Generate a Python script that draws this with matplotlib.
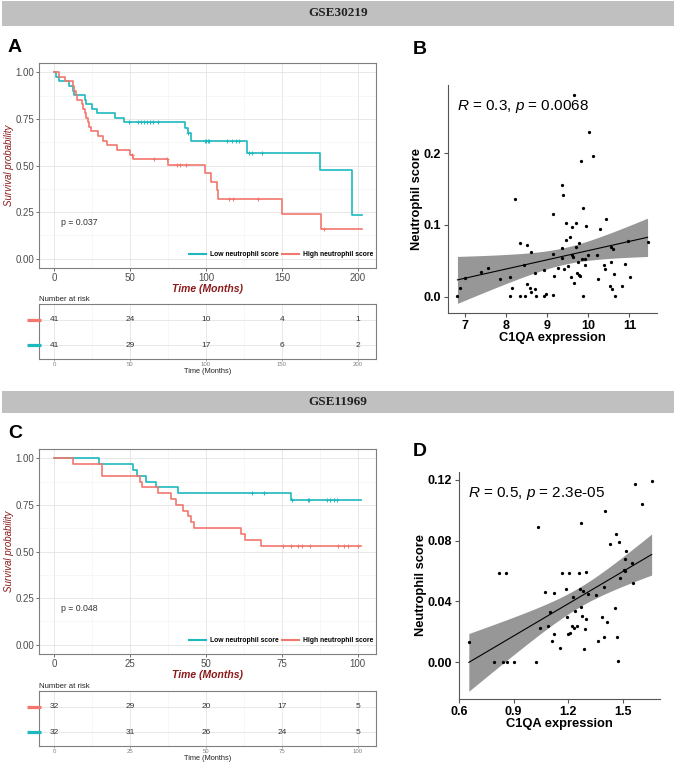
import numpy as np
import matplotlib
matplotlib.use('Agg')
import matplotlib.pyplot as plt
from matplotlib.patches import Rectangle
from matplotlib.lines import Line2D
from matplotlib.transforms import blended_transform_factory

plt.rcParams['font.family'] = ['Liberation Sans', 'DejaVu Sans']
plt.rcParams['mathtext.fontset'] = 'custom'
plt.rcParams['mathtext.rm'] = 'Liberation Sans'
plt.rcParams['mathtext.it'] = 'Liberation Sans:italic'

# ---------------- data ----------------
dataset_titles = ['GSE30219', 'GSE11969']
group_labels = ['Low neutrophil score', 'High neutrophil score']

# Panel A (GSE30219) Kaplan-Meier
A_low_t = [0, 1, 3, 10, 12, 13, 20, 21, 25, 28, 40, 46, 86, 88, 90, 127, 175, 196, 203]
A_low_s = [1.0, 0.976, 0.951, 0.927, 0.902, 0.878, 0.854, 0.829, 0.805, 0.780, 0.756,
           0.732, 0.703, 0.674, 0.634, 0.568, 0.474, 0.237, 0.237]
A_low_cens = [49, 55, 57, 59, 61, 63, 65, 68, 88, 99, 100, 101, 102, 114, 117, 120, 122,
              128, 130, 137]
A_high_t = [0, 3, 7, 12, 13, 14, 15, 18, 19, 20, 21, 22, 23, 24, 29, 32, 35, 41, 50, 52,
            75, 99, 103, 107, 108, 150, 176, 203]
A_high_s = [1.0, 0.976, 0.951, 0.927, 0.902, 0.878, 0.854, 0.829, 0.805, 0.780, 0.756,
            0.732, 0.707, 0.683, 0.659, 0.634, 0.610, 0.585, 0.559, 0.534, 0.504, 0.458,
            0.412, 0.366, 0.320, 0.240, 0.160, 0.160]
A_high_cens = [51, 66, 74, 81, 83, 87, 115, 118, 134, 178]
A_pval = 'p = 0.037'
A_risk_times = [0, 50, 100, 150, 200]
A_risk_high = [41, 24, 10, 4, 1]
A_risk_low = [41, 29, 17, 6, 2]

# Panel C (GSE11969) Kaplan-Meier
C_low_t = [0, 14.6, 25.8, 27.2, 30.1, 33.4, 40.9, 78, 101]
C_low_s = [1.0, 0.969, 0.938, 0.906, 0.875, 0.844, 0.8125, 0.778, 0.778]
C_low_cens = [65, 69, 78.2, 83.5, 84, 89.7, 91, 92, 93]
C_high_t = [0, 6, 15.7, 28.3, 29, 34, 38.4, 40, 42.3, 44.2, 45, 46, 61.4, 62.8, 68.1, 101]
C_high_s = [1.0, 0.969, 0.906, 0.875, 0.844, 0.8125, 0.781, 0.75, 0.719, 0.688, 0.656,
            0.625, 0.594, 0.562, 0.531, 0.531]
C_high_cens = [75.4, 78, 80.4, 81.7, 84.4, 93.5, 95.4, 96.8, 100]
C_pval = 'p = 0.048'
C_risk_times = [0, 25, 50, 75, 100]
C_risk_high = [32, 29, 20, 17, 5]
C_risk_low = [32, 31, 26, 24, 5]

# Panel B scatter (GSE30219)
B_x = [6.81, 6.88, 6.99, 7.38, 7.56, 7.84, 8.08, 8.09, 8.14, 8.20, 8.33, 8.34, 8.44, 8.46,
       8.50, 8.50, 8.57, 8.60, 8.61, 8.69, 8.71, 8.73, 8.91, 8.92, 8.96, 9.13, 9.14, 9.13,
       9.17, 9.25, 9.35, 9.37, 9.35, 9.36, 9.41, 9.45, 9.46, 9.50, 9.55, 9.57, 9.59, 9.61,
       9.63, 9.66, 9.66, 9.70, 9.70, 9.71, 9.74, 9.76, 9.78, 9.79, 9.81, 9.84, 9.87, 9.87,
       9.91, 9.92, 9.95, 10.00, 10.02, 10.10, 10.20, 10.24, 10.28, 10.38, 10.40, 10.44,
       10.52, 10.54, 10.56, 10.57, 10.60, 10.62, 10.65, 10.81, 10.90, 10.96, 11.02, 11.44]
B_y = [0.001, 0.012, 0.026, 0.034, 0.040, 0.025, 0.027, 0.001, 0.0125, 0.136, 0.001, 0.074,
       0.0435, 0.001, 0.072, 0.0176, 0.0116, 0.006, 0.0616, 0.0106, 0.033, 0.001, 0.0366,
       0.001, 0.003, 0.115, 0.059, 0.002, 0.0287, 0.040, 0.155, 0.141, 0.068, 0.0537, 0.039,
       0.102, 0.0787, 0.0426, 0.083, 0.027, 0.097, 0.058, 0.0546, 0.281, 0.0185, 0.069,
       0.103, 0.0324, 0.0486, 0.030, 0.075, 0.029, 0.189, 0.053, 0.124, 0.001, 0.053, 0.044,
       0.099, 0.058, 0.230, 0.196, 0.0574, 0.024, 0.0935, 0.044, 0.039, 0.108, 0.0153,
       0.069, 0.0486, 0.0102, 0.066, 0.031, 0.001, 0.014, 0.045, 0.078, 0.0273, 0.076]
B_text = r'$\mathit{R}$ = 0.3, $\mathit{p}$ = 0.0068'

# Panel D scatter (GSE11969)
D_x = [0.654, 0.790, 0.822, 0.844, 0.858, 0.864, 0.904, 1.021, 1.034, 1.043, 1.075, 1.088,
       1.099, 1.111, 1.121, 1.124, 1.157, 1.166, 1.187, 1.193, 1.198, 1.202, 1.211, 1.220,
       1.225, 1.233, 1.238, 1.247, 1.261, 1.265, 1.271, 1.271, 1.274, 1.280, 1.287, 1.290,
       1.296, 1.298, 1.310, 1.352, 1.364, 1.386, 1.397, 1.397, 1.404, 1.415, 1.428, 1.460,
       1.464, 1.469, 1.473, 1.477, 1.486, 1.509, 1.515, 1.518, 1.515, 1.549, 1.554, 1.569,
       1.608, 1.659]
D_y = [0.0135, 0.000, 0.059, 0.000, 0.059, 0.000, 0.000, 0.000, 0.089, 0.0229, 0.0465,
       0.0236, 0.033, 0.0142, 0.0185, 0.0458, 0.0098, 0.059, 0.048, 0.0295, 0.0185, 0.059,
       0.0192, 0.0242, 0.0428, 0.0229, 0.0336, 0.0236, 0.0585, 0.048, 0.0916, 0.0367,
       0.0308, 0.0469, 0.0089, 0.0218, 0.0286, 0.0596, 0.045, 0.044, 0.0142, 0.0295, 0.0166,
       0.0497, 0.0995, 0.0268, 0.0775, 0.036, 0.084, 0.0164, 0.001, 0.0788, 0.0556, 0.061,
       0.060, 0.073, 0.068, 0.0655, 0.052, 0.117, 0.104, 0.119]
D_text = r'$\mathit{R}$ = 0.5, $\mathit{p}$ = 2.3e-05'

# ---------------- style ----------------
TEAL = '#1DB9BF'
RED = '#F2776D'
DARKRED = '#8B1A1A'
FRAME = '#7F7F7F'
W, H = 676, 764

fig = plt.figure(figsize=(W / 100, H / 100), dpi=100)


def px_axes(l, t, r, b):
    return fig.add_axes([l / W, 1 - b / H, (r - l) / W, (b - t) / H])


def banner(top, bottom, text):
    fig.patches.append(Rectangle((2 / W, 1 - bottom / H), (W - 4) / W, (bottom - top) / H,
                                 transform=fig.transFigure, facecolor='#C0C0C0',
                                 edgecolor='none', zorder=0))
    fig.text(0.5, 1 - (top + bottom) / 2 / H, text, ha='center', va='center',
             family=['Liberation Serif'], weight='bold', fontsize=9.5, color='#222222')


def km_panel(ax, curves, xlim, xmajor, xminor, pval):
    for t, s, cens, col in curves:
        t = np.asarray(t, float)
        s = np.asarray(s, float)
        ax.step(t, s, where='post', color=col, lw=1.2, zorder=3)
        c = np.asarray(cens, float)
        idx = np.searchsorted(t, c, side='right') - 1
        ax.plot(c, s[idx], '+', color=col, ms=3.2, mew=0.7, zorder=4)
    ax.set_xlim(xlim)
    ax.set_ylim(-0.05, 1.05)
    ax.set_xticks(xmajor)
    ax.set_xticks(xminor, minor=True)
    ax.set_yticks([0, 0.25, 0.5, 0.75, 1.0])
    ax.set_yticks([0.125, 0.375, 0.625, 0.875], minor=True)
    ax.set_yticklabels(['0.00', '0.25', '0.50', '0.75', '1.00'])
    ax.grid(which='major', color='#E4E4E4', lw=0.6)
    ax.grid(which='minor', color='#F2F2F2', lw=0.4)
    ax.set_axisbelow(True)
    ax.tick_params(which='major', length=2, width=0.6, color='#555555', labelsize=7,
                   labelcolor='#4D4D4D', pad=1.5)
    ax.tick_params(which='minor', length=0)
    for sp in ax.spines.values():
        sp.set_color(FRAME)
        sp.set_linewidth(0.8)
    ax.set_ylabel('Survival probability', color=DARKRED, style='italic', fontsize=7,
                  labelpad=1)
    ax.set_xlabel('Time (Months)', color=DARKRED, style='italic', weight='bold',
                  fontsize=7.5, labelpad=0.5)
    ax.text(0.065, 0.22, pval, transform=ax.transAxes, fontsize=6.3, color='#333333',
            ha='left', va='center')
    handles = [Line2D([], [], color=TEAL, lw=1.5), Line2D([], [], color=RED, lw=1.5)]
    ax.legend(handles, group_labels, loc='center right', bbox_to_anchor=(1.0, 0.064),
              ncol=2, frameon=False, handlelength=2.6, columnspacing=0.5,
              handletextpad=0.5, borderaxespad=0.0,
              prop={'family': 'Liberation Sans', 'weight': 'bold', 'size': 4.9})


def risk_table(ax, times, high, low, xlim, xmajor, xminor):
    for x, n in zip(times, high):
        ax.text(x, 2, str(n), ha='center', va='center', fontsize=6, color='#333333')
    for x, n in zip(times, low):
        ax.text(x, 1, str(n), ha='center', va='center', fontsize=6, color='#333333')
    ax.set_xlim(xlim)
    ax.set_ylim(0.45, 2.62)
    ax.set_yticks([1, 2])
    ax.set_yticklabels([])
    ax.set_xticks(xmajor)
    ax.set_xticks(xminor, minor=True)
    ax.grid(which='major', color='#E4E4E4', lw=0.6)
    ax.grid(which='minor', axis='x', color='#F2F2F2', lw=0.4)
    ax.set_axisbelow(True)
    ax.tick_params(axis='x', which='major', length=1.5, width=0.5, color='#888888',
                   labelsize=4.3, labelcolor='#808080', pad=1)
    ax.tick_params(which='minor', length=0)
    ax.tick_params(axis='y', which='major', length=0)
    # coloured strata keys at the left of each row
    tr = blended_transform_factory(ax.transAxes, ax.transData)
    for row, col in [(1, TEAL), (2, RED)]:
        ax.plot([-0.036, 0.006], [row, row], color=col, lw=2.3, transform=tr,
                clip_on=False, solid_capstyle='butt', zorder=5)
    for sp in ax.spines.values():
        sp.set_color(FRAME)
        sp.set_linewidth(0.8)
    ax.set_xlabel('Time (Months)', fontsize=5.3, labelpad=0.5, color='#222222')
    ax.set_title('Number at risk', loc='left', fontsize=5.6, pad=2, color='#222222')


def scatter_panel(ax, x, y, xlim, ylim, xticks, yticks, ylabels, text, tpos):
    x = np.asarray(x, float)
    y = np.asarray(y, float)
    n = len(x)
    b, a = np.polyfit(x, y, 1)
    xs = np.linspace(x.min(), x.max(), 200)
    yhat = a + b * xs
    resid = y - (a + b * x)
    s = np.sqrt(np.sum(resid ** 2) / (n - 2))
    sxx = np.sum((x - x.mean()) ** 2)
    se = s * np.sqrt(1.0 / n + (xs - x.mean()) ** 2 / sxx)
    tq = 1.99
    ax.fill_between(xs, yhat - tq * se, yhat + tq * se, color='#979797', lw=0, zorder=1)
    ax.plot(xs, yhat, color='black', lw=0.8, zorder=2)
    ax.scatter(x, y, s=5.5, color='black', lw=0, zorder=3)
    ax.set_xlim(xlim)
    ax.set_ylim(ylim)
    ax.set_xticks(xticks)
    ax.set_yticks(yticks)
    ax.set_yticklabels(ylabels)
    for side in ['top', 'right']:
        ax.spines[side].set_visible(False)
    for side in ['left', 'bottom']:
        ax.spines[side].set_color('#555555')
        ax.spines[side].set_linewidth(0.8)
    ax.tick_params(length=3, width=0.8, color='#555555', labelsize=9, pad=2)
    for lab in ax.get_xticklabels() + ax.get_yticklabels():
        lab.set_fontweight('bold')
    ax.set_xlabel('C1QA expression', fontsize=9.3, weight='bold', labelpad=0)
    ax.set_ylabel('Neutrophil score', fontsize=9.3, weight='bold', labelpad=0.5)
    ax.text(tpos[0], tpos[1], text, transform=ax.transAxes, fontsize=11, ha='left',
            va='center')


# ---------------- banners & panel letters ----------------
banner(1, 26, dataset_titles[0])
banner(391, 413, dataset_titles[1])
for letter, xp, yp in [('A', 8, 47), ('B', 413, 50), ('C', 8, 433), ('D', 413, 452)]:
    fig.text(xp / W, 1 - yp / H, letter, fontsize=14, weight='bold', ha='left',
             va='center')

# ---------------- Panel A ----------------
axA = px_axes(39, 63, 376, 268)
km_panel(axA, [(A_low_t, A_low_s, A_low_cens, TEAL), (A_high_t, A_high_s, A_high_cens, RED)],
         (-10.1, 212.0), [0, 50, 100, 150, 200], [25, 75, 125, 175], A_pval)
axAt = px_axes(39, 304, 376, 359)
risk_table(axAt, A_risk_times, A_risk_high, A_risk_low, (-10.1, 212.0),
           [0, 50, 100, 150, 200], [25, 75, 125, 175])

# ---------------- Panel C ----------------
axC = px_axes(39, 449, 376, 654)
km_panel(axC, [(C_low_t, C_low_s, C_low_cens, TEAL), (C_high_t, C_high_s, C_high_cens, RED)],
         (-5.05, 106.0), [0, 25, 50, 75, 100], [12.5, 37.5, 62.5, 87.5], C_pval)
axCt = px_axes(39, 691, 376, 746)
risk_table(axCt, C_risk_times, C_risk_high, C_risk_low, (-5.05, 106.0),
           [0, 25, 50, 75, 100], [12.5, 37.5, 62.5, 87.5])

# ---------------- Panel B ----------------
axB = px_axes(448, 85, 657, 313)
scatter_panel(axB, B_x, B_y, (6.58, 11.67), (-0.023, 0.295), [7, 8, 9, 10, 11],
              [0.0, 0.1, 0.2], ['0.0', '0.1', '0.2'], B_text, (0.043, 0.904))

# ---------------- Panel D ----------------
axD = px_axes(459, 472, 660, 699)
scatter_panel(axD, D_x, D_y, (0.607, 1.705), (-0.024, 0.125), [0.6, 0.9, 1.2, 1.5],
              [0.00, 0.04, 0.08, 0.12], ['0.00', '0.04', '0.08', '0.12'], D_text,
              (0.045, 0.907))

fig.savefig('out.png', dpi=100)
